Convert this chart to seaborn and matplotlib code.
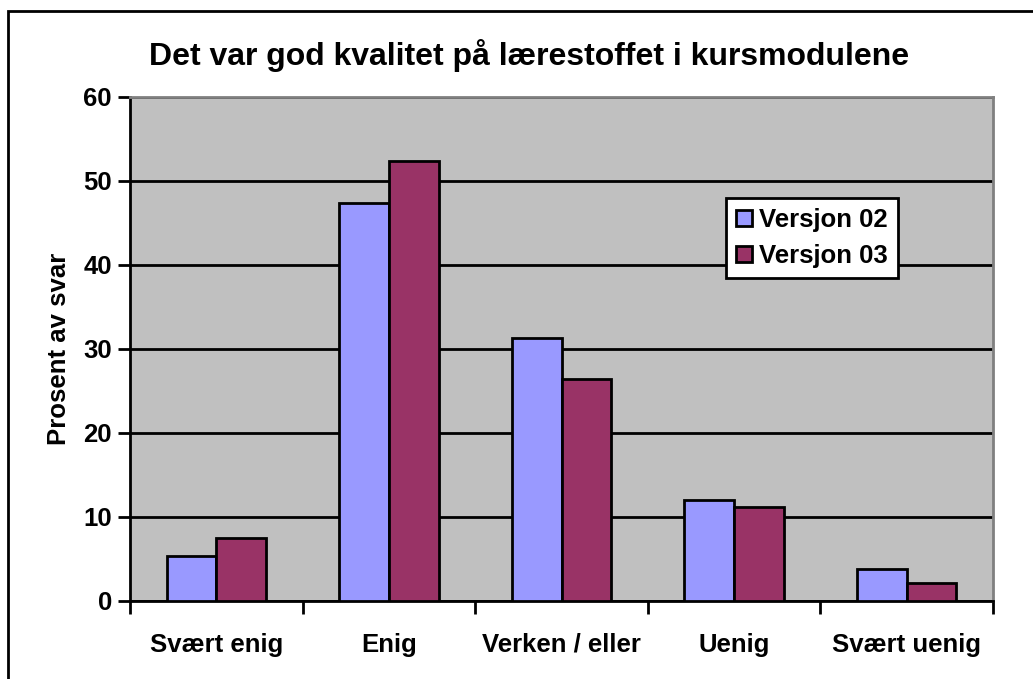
import matplotlib
matplotlib.use("Agg")
import matplotlib.pyplot as plt
import seaborn as sb
import pandas as pd
from matplotlib.patches import Rectangle
from matplotlib.ticker import FixedLocator

categories = ["Svært enig", "Enig", "Verken / eller", "Uenig", "Svært uenig"]
series = ["Versjon 02", "Versjon 03"]
versjon_02 = [5.3, 47.4, 31.3, 12.0, 3.85]
versjon_03 = [7.5, 52.4, 26.4, 11.2, 2.1]
colors = ["#9999FF", "#993366"]

df = pd.DataFrame({
    "kategori": categories * 2,
    "versjon": [series[0]] * len(categories) + [series[1]] * len(categories),
    "prosent": versjon_02 + versjon_03,
})

sb.set_style("white")
plt.rcParams["font.family"] = ["Liberation Sans", "DejaVu Sans"]
plt.rcParams["font.weight"] = "bold"
plt.rcParams["text.color"] = "black"
plt.rcParams["xtick.color"] = "black"
plt.rcParams["ytick.color"] = "black"
plt.rcParams["axes.labelcolor"] = "black"

fig = plt.figure(figsize = (10.33, 6.79), dpi = 100)
ax = fig.add_axes([130 / 1033, 1 - 601 / 679, 863 / 1033, 504 / 679])
ax.set_facecolor("#C0C0C0")

sb.barplot(data = df, x = "kategori", y = "prosent", hue = "versjon", order = categories,
           hue_order = series, palette = colors, width = 0.575, gap = 0, saturation = 1,
           edgecolor = "black", linewidth = 2, ax = ax, zorder = 3)

ax.set_xlim(-0.5, len(categories) - 0.5)
ax.set_ylim(0, 60)
ax.set_yticks(range(0, 61, 10))
ax.yaxis.grid(True, color = "black", linewidth = 2, zorder = 1)
ax.set_axisbelow(True)

# tick marks sit between the categories, labels in the middle
ax.xaxis.set_minor_locator(FixedLocator([i - 0.5 for i in range(len(categories) + 1)]))
ax.tick_params(axis = "x", which = "major", bottom = False, length = 0, pad = 23, labelsize = 18.5)
ax.tick_params(axis = "x", which = "minor", bottom = True, length = 9, width = 2, direction = "out", color = "black")
ax.tick_params(axis = "y", left = True, length = 9, width = 2, direction = "out", color = "black", labelsize = 18.5, pad = 4)
for lab in ax.get_xticklabels() + ax.get_yticklabels():
    lab.set_fontweight("bold")

for side in ["left", "bottom"]:
    ax.spines[side].set_color("black")
    ax.spines[side].set_linewidth(2)
for side in ["top", "right"]:
    ax.spines[side].set_color("#808080")
    ax.spines[side].set_linewidth(2)

ax.set_xlabel("")
ax.set_ylabel("Prosent av svar", fontsize = 18.5, fontweight = "bold", labelpad = 9)

fig.text(0.512, 1 - 55 / 679, "Det var god kvalitet på lærestoffet i kursmodulene",
         ha = "center", va = "center", fontsize = 23, fontweight = "bold")

leg = ax.legend(loc = "upper left", bbox_to_anchor = ((726 - 130) / 863, (601 - 198) / 504),
                frameon = True, fancybox = False, edgecolor = "black", framealpha = 1,
                fontsize = 18.5, handlelength = 0.6, handleheight = 0.6, handletextpad = 0.3,
                borderpad = 0.4, labelspacing = 0.45, borderaxespad = 0)
leg.get_frame().set_linewidth(2)
for t in leg.get_texts():
    t.set_fontweight("bold")

fig.patches.append(Rectangle((8 / 1033, -0.05), 1.2, 1.05 - 11 / 679,
                             transform = fig.transFigure, fill = False,
                             edgecolor = "black", linewidth = 2))

fig.savefig("out.png", dpi = 100)
